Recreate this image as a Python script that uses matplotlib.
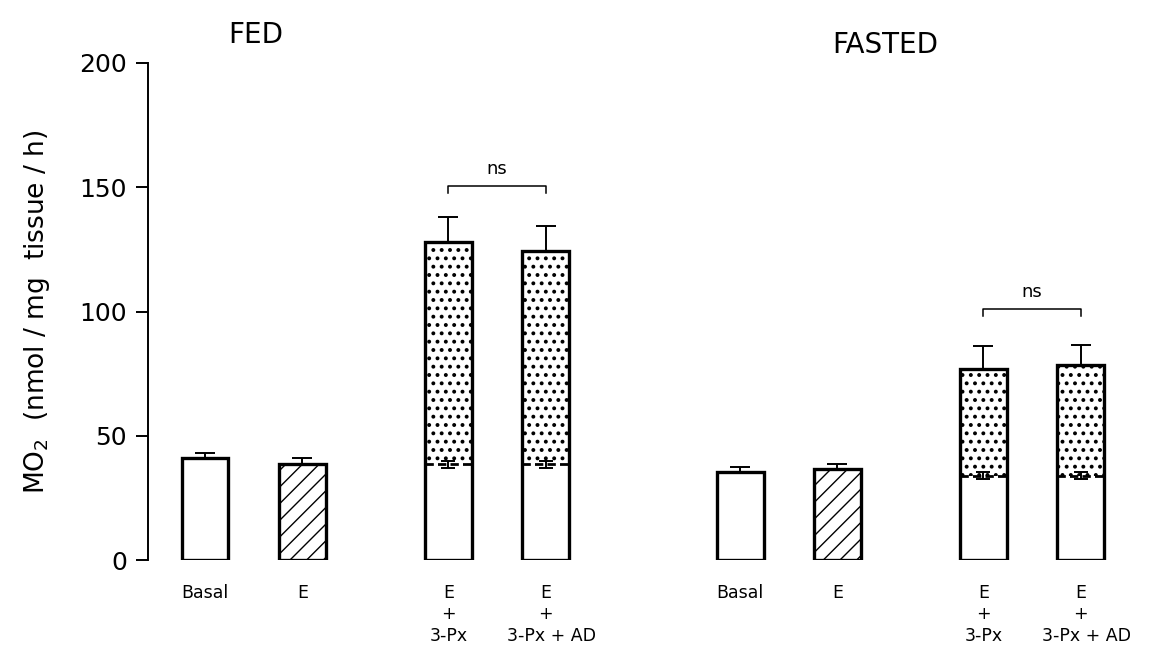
import matplotlib
matplotlib.use("Agg")
import matplotlib.pyplot as plt

# bar positions in units of one bar spacing
positions = [0, 1, 2.5, 3.5, 5.5, 6.5, 8, 9]
group_titles = ["FED", "FASTED"]

# total height and upper error for every bar
totals = [41, 38.5, 128, 124.5, 35.5, 36.5, 77, 78.5]
total_err = [2, 2.5, 10, 10, 2, 2, 9, 8]
# hatch of the bar: "" white, "//" hatched, ".." stippled above a base
styles = ["", "//", "..", "..", "", "//", "..", ".."]
# base level (E alone) drawn dashed inside the stippled bars
bases = [None, None, 38.5, 38.5, None, None, 34, 34]
base_err = [0, 0, 1.5, 1.5, 0, 0, 1.5, 1.5]

label_lines = [["Basal"], ["E"], ["E", "+", "3-Px"], ["E", "+", "3-Px + AD"],
               ["Basal"], ["E"], ["E", "+", "3-Px"], ["E", "+", "3-Px + AD"]]

# ns brackets: (left bar index, right bar index, height)
brackets = [(2, 3, 150.5), (6, 7, 101)]

yticks = [0, 50, 100, 150, 200]

plt.rcParams["font.family"] = "DejaVu Sans"
plt.rcParams["hatch.linewidth"] = 1.0

fig = plt.figure(figsize=(11.66, 6.49), dpi=100)
ax = fig.add_axes([148 / 1166, 89 / 649, 1 - 148 / 1166, 497 / 649])


def hatched_bar(x, h, w, bottom, hatch):
    hlw = 1.6 if "." in hatch else 1.0
    with plt.rc_context({"hatch.linewidth": hlw}):
        bars = ax.bar(x, h, w, bottom=bottom, color="white",
                      edgecolor="black", linewidth=0, hatch=hatch)
    for p in bars.patches:
        if hasattr(p, "set_hatch_linewidth"):
            p.set_hatch_linewidth(hlw)


w = 0.48
lw = 2.4
for i, x in enumerate(positions):
    if bases[i] is not None:
        hatched_bar(x, totals[i] - bases[i], w, bases[i], styles[i])
        ax.plot([x - w / 2, x + w / 2], [bases[i], bases[i]], color="black",
                lw=2, ls=(0, (3, 1.5)))
        ax.errorbar(x, bases[i], yerr=base_err[i], color="black", lw=1.4,
                    capsize=5, capthick=1.4)
    elif styles[i]:
        hatched_bar(x, totals[i], w, 0, styles[i])
    ax.bar(x, totals[i], w, fill=False, edgecolor="black", linewidth=lw)
    ax.errorbar(x, totals[i], yerr=[[0], [total_err[i]]], color="black",
                lw=1.4, capsize=7, capthick=1.4)

    for k, line in enumerate(label_lines[i]):
        wide = line == "3-Px + AD"
        ax.text(x - 0.4 if wide else x, -13.3 - 8.6 * k, line,
                ha="left" if wide else "center", va="center", fontsize=12.5,
                clip_on=False)

for a, b, h in brackets:
    xa, xb = positions[a], positions[b]
    ax.plot([xa, xa, xb, xb], [h - 3, h, h, h - 3], color="black", lw=1.1,
            clip_on=False)
    ax.text((xa + xb) / 2, h + 7, "ns", ha="center", va="center",
            fontsize=13)

ax.set_xlim(-0.586, (1166 - 205) / 97.3)
ax.set_ylim(0, 200)
ax.set_yticks(yticks)
ax.tick_params(axis="y", direction="out", length=9, width=1.4, pad=6,
               labelsize=18)
ax.set_xticks([])
for s in ["top", "right", "bottom"]:
    ax.spines[s].set_visible(False)
ax.spines["left"].set_linewidth(1.4)
ax.set_ylabel(r"MO$_2$  (nmol / mg  tissue / h)", fontsize=19, labelpad=20)

fig.text(256 / 1166, 1 - 35 / 649, group_titles[0], ha="center",
         va="center", fontsize=20)
fig.text(885 / 1166, 1 - 45 / 649, group_titles[1], ha="center",
         va="center", fontsize=20)

fig.savefig("out.png", dpi=100)
